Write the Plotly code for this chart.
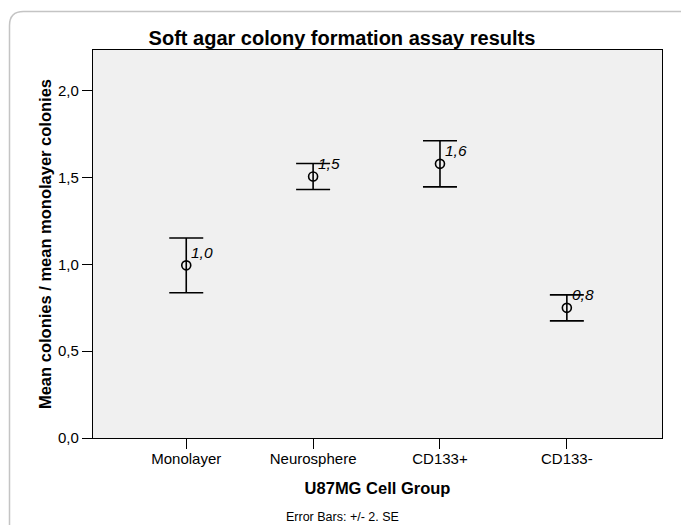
import plotly.graph_objects as go

# ---- data ----
categories = ["Monolayer", "Neurosphere", "CD133+", "CD133-"]
means = [0.995, 1.507, 1.580, 0.750]
errors_2se = [0.158, 0.075, 0.133, 0.075]
mean_labels = ["1,0", "1,5", "1,6", "0,8"]
y_tick_vals = [0.0, 0.5, 1.0, 1.5, 2.0]
y_tick_text = ["0,0", "0,5", "1,0", "1,5", "2,0"]

W, H = 681, 525
ML, MR, MT, MB = 93, 19, 50, 87
FONT = "Liberation Sans, Arial, sans-serif"

x_idx = list(range(len(categories)))

fig = go.Figure()
fig.add_trace(go.Scatter(
    x=x_idx, y=means, mode="markers",
    marker=dict(symbol="circle-open", size=9, color="black", line=dict(width=1.6, color="black")),
    error_y=dict(type="data", array=errors_2se, visible=True, color="black", thickness=1.6, width=17),
    showlegend=False, hoverinfo="skip",
))

for xi, m, lab in zip(x_idx, means, mean_labels):
    fig.add_annotation(x=xi, y=m, text=f"<i>{lab}</i>", showarrow=False,
                       xanchor="left", yanchor="middle", xshift=3, yshift=13,
                       font=dict(family=FONT, size=15.5, color="black"))

pw = W - ML - MR
ph = H - MT - MB
def px_x(p):
    return (p - ML) / pw
def px_y(p):
    return 1 - (p - MT) / ph

# outer rounded frame (top-left corner visible)
x0, y0, x1, y1 = px_x(9.5), px_y(11.5), px_x(700), px_y(540)
r = 14
rx, ry = r / pw, r / ph
path = (f"M {x0},{y1} L {x0},{y0 - ry} Q {x0},{y0} {x0 + rx},{y0} L {x1},{y0}")
fig.add_shape(type="path", path=path, xref="paper", yref="paper",
              line=dict(color="#c4c4c4", width=1.5), layer="below")

fig.update_layout(
    width=W, height=H,
    margin=dict(l=ML, r=MR, t=MT, b=MB),
    paper_bgcolor="white", plot_bgcolor="#f0f0f0",
    font=dict(family=FONT, color="black"),
    title=dict(text="<b>Soft agar colony formation assay results</b>",
               x=342 / W, xanchor="center", y=1 - 38 / H, yanchor="middle",
               font=dict(size=20, family=FONT, color="black")),
    xaxis=dict(range=[-0.735, 3.75], tickmode="array", tickvals=x_idx, ticktext=categories,
               ticks="outside", ticklen=10, tickcolor="black", tickwidth=1.2,
               ticklabelstandoff=-3,
               showgrid=False, zeroline=False, showline=True, linecolor="black", linewidth=1.2,
               mirror=True, tickfont=dict(size=15),
               title=dict(text="<b>U87MG Cell Group</b>", font=dict(size=16.5), standoff=16)),
    yaxis=dict(range=[0, 2.236], tickmode="array", tickvals=y_tick_vals, ticktext=y_tick_text,
               ticks="outside", ticklen=10, tickcolor="black", tickwidth=1.2,
               showgrid=False, zeroline=False, showline=True, linecolor="black", linewidth=1.2,
               mirror=True, tickfont=dict(size=15),
               title=dict(text="<b>Mean colonies / mean monolayer colonies</b>", font=dict(size=16.5), standoff=2)),
)

fig.add_annotation(text="Error Bars: +/- 2. SE", xref="paper", yref="paper",
                   x=px_x(342), y=px_y(517), showarrow=False, xanchor="center", yanchor="middle",
                   font=dict(size=12.5, family=FONT, color="black"))

fig.write_html("out.html", config={"displayModeBar": False},
               post_script="document.body.style.margin='0';document.body.style.overflow='hidden';")
